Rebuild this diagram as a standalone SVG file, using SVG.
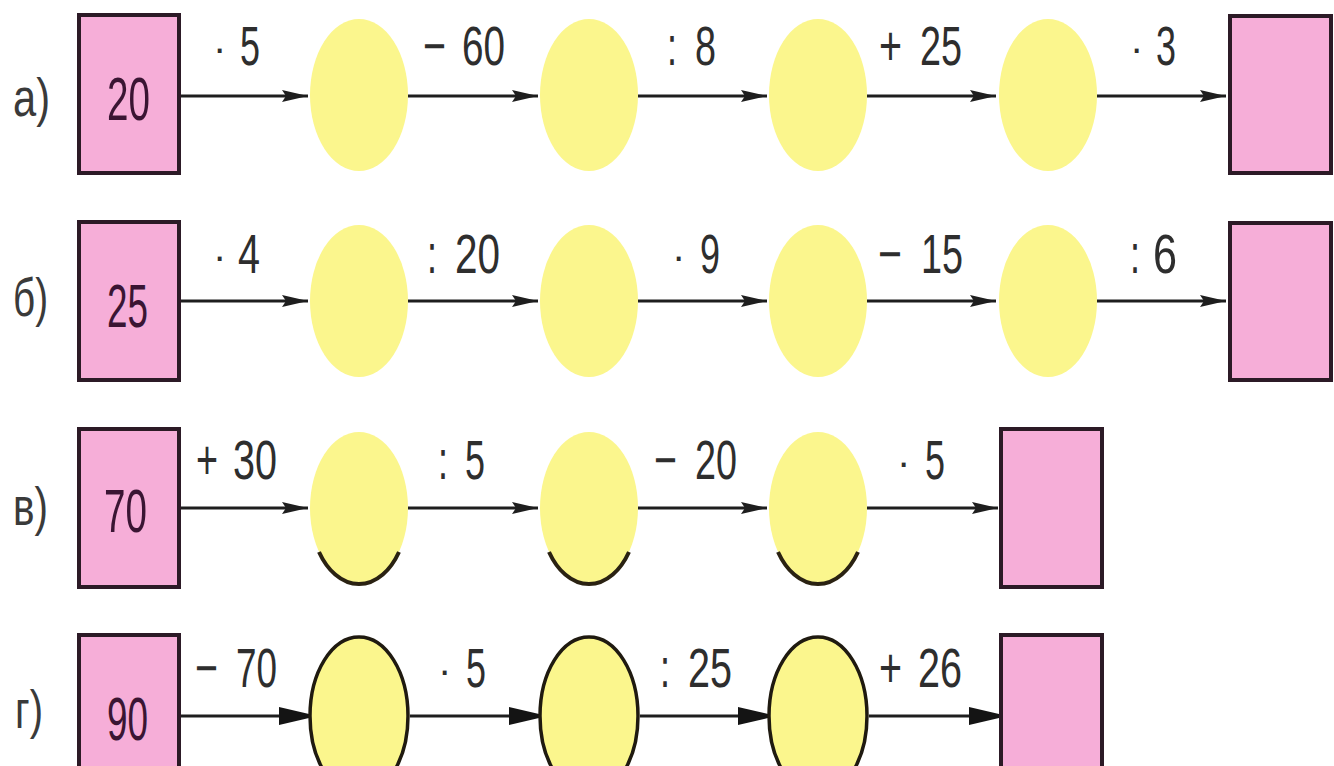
<svg xmlns="http://www.w3.org/2000/svg" width="1334" height="766" viewBox="0 0 1334 766">
<defs>
<style>
.box{fill:#f6aed8;stroke:#2c1a26;stroke-width:4}
.ov{fill:#fbf68d}
.ovs{fill:#fbf68d;stroke:#1f1a10;stroke-width:3.5}
.arc{fill:none;stroke:#2a2212;stroke-width:4}
.ln{stroke:#1e1e1e;stroke-width:3;fill:none}
.num{font-family:"Liberation Sans Narrow","Liberation Sans",Arial,sans-serif;font-size:62px;fill:#3a1533}
.lab{font-family:"Liberation Sans Narrow","Liberation Sans",Arial,sans-serif;font-size:56px;fill:#2e2e2e}
.dot{font-family:"Liberation Sans",Arial,sans-serif;font-size:40px;fill:#2e2e2e}
.row{font-family:"Liberation Sans Narrow","Liberation Sans",Arial,sans-serif;font-size:54px;fill:#3a3a3a}
</style>
<marker id="ah" markerUnits="userSpaceOnUse" markerWidth="28" markerHeight="14" refX="26" refY="7" orient="auto">
<path d="M0,1 L26,7 L0,13 L4,7 Z" fill="#1e1e1e"/>
</marker>
<marker id="ahb" markerUnits="userSpaceOnUse" markerWidth="32" markerHeight="20" refX="30" refY="10" orient="auto">
<path d="M0,1 L30,8 L30,12 L0,19 Z" fill="#141414"/>
</marker>
</defs>
<rect width="1334" height="766" fill="#ffffff"/>

<g id="row-labels">
<text class="row" x="13" y="116" textLength="37" lengthAdjust="spacingAndGlyphs">а)</text>
<text class="row" x="13" y="316" textLength="35" lengthAdjust="spacingAndGlyphs">б)</text>
<text class="row" x="13" y="525" textLength="35" lengthAdjust="spacingAndGlyphs">в)</text>
<text class="row" x="15" y="728" textLength="28" lengthAdjust="spacingAndGlyphs">г)</text>
</g>

<g id="connectors">
<line class="ln" x1="180" y1="96" x2="308" y2="96" marker-end="url(#ah)"/>
<line class="ln" x1="408" y1="96" x2="538" y2="96" marker-end="url(#ah)"/>
<line class="ln" x1="638" y1="96" x2="767" y2="96" marker-end="url(#ah)"/>
<line class="ln" x1="867" y1="96" x2="996" y2="96" marker-end="url(#ah)"/>
<line class="ln" x1="1097" y1="96" x2="1226" y2="96" marker-end="url(#ah)"/>
<line class="ln" x1="180" y1="301" x2="308" y2="301" marker-end="url(#ah)"/>
<line class="ln" x1="408" y1="301" x2="538" y2="301" marker-end="url(#ah)"/>
<line class="ln" x1="638" y1="301" x2="767" y2="301" marker-end="url(#ah)"/>
<line class="ln" x1="867" y1="301" x2="996" y2="301" marker-end="url(#ah)"/>
<line class="ln" x1="1097" y1="301" x2="1226" y2="301" marker-end="url(#ah)"/>
<line class="ln" x1="180" y1="508" x2="308" y2="508" marker-end="url(#ah)"/>
<line class="ln" x1="408" y1="508" x2="538" y2="508" marker-end="url(#ah)"/>
<line class="ln" x1="638" y1="508" x2="767" y2="508" marker-end="url(#ah)"/>
<line class="ln" x1="867" y1="508" x2="998" y2="508" marker-end="url(#ah)"/>
<line class="ln" x1="180" y1="716" x2="309" y2="716" marker-end="url(#ahb)"/>
<line class="ln" x1="410" y1="716" x2="539" y2="716" marker-end="url(#ahb)"/>
<line class="ln" x1="640" y1="716" x2="768" y2="716" marker-end="url(#ahb)"/>
<line class="ln" x1="869" y1="716" x2="999" y2="716" marker-end="url(#ahb)"/>
</g>

<g id="edge-labels">
<text class="dot" x="213" y="62">·</text><text class="lab" x="240" y="65" textLength="20" lengthAdjust="spacingAndGlyphs">5</text>
<text class="lab" x="423" y="65" textLength="23" lengthAdjust="spacingAndGlyphs">−</text><text class="lab" x="462" y="65" textLength="43" lengthAdjust="spacingAndGlyphs">60</text>
<text class="lab" x="667" y="65" textLength="10" lengthAdjust="spacingAndGlyphs">:</text><text class="lab" x="695" y="65" textLength="21" lengthAdjust="spacingAndGlyphs">8</text>
<text class="lab" x="879" y="65" textLength="23" lengthAdjust="spacingAndGlyphs">+</text><text class="lab" x="920" y="65" textLength="42" lengthAdjust="spacingAndGlyphs">25</text>
<text class="dot" x="1130" y="62">·</text><text class="lab" x="1156" y="65" textLength="20" lengthAdjust="spacingAndGlyphs">3</text>

<text class="dot" x="213" y="270">·</text><text class="lab" x="238" y="273" textLength="22" lengthAdjust="spacingAndGlyphs">4</text>
<text class="lab" x="427" y="273" textLength="10" lengthAdjust="spacingAndGlyphs">:</text><text class="lab" x="455" y="273" textLength="45" lengthAdjust="spacingAndGlyphs">20</text>
<text class="dot" x="672" y="270">·</text><text class="lab" x="700" y="273" textLength="20" lengthAdjust="spacingAndGlyphs">9</text>
<text class="lab" x="878" y="273" textLength="24" lengthAdjust="spacingAndGlyphs">−</text><text class="lab" x="921" y="273" textLength="42" lengthAdjust="spacingAndGlyphs">15</text>
<text class="lab" x="1130" y="273" textLength="10" lengthAdjust="spacingAndGlyphs">:</text><text class="lab" x="1153" y="273" textLength="24" lengthAdjust="spacingAndGlyphs">6</text>

<text class="lab" x="196" y="479" textLength="22" lengthAdjust="spacingAndGlyphs">+</text><text class="lab" x="233" y="479" textLength="44" lengthAdjust="spacingAndGlyphs">30</text>
<text class="lab" x="438" y="479" textLength="10" lengthAdjust="spacingAndGlyphs">:</text><text class="lab" x="465" y="479" textLength="20" lengthAdjust="spacingAndGlyphs">5</text>
<text class="lab" x="654" y="479" textLength="23" lengthAdjust="spacingAndGlyphs">−</text><text class="lab" x="695" y="479" textLength="42" lengthAdjust="spacingAndGlyphs">20</text>
<text class="dot" x="897" y="476">·</text><text class="lab" x="925" y="479" textLength="20" lengthAdjust="spacingAndGlyphs">5</text>

<text class="lab" x="195" y="687" textLength="23" lengthAdjust="spacingAndGlyphs">−</text><text class="lab" x="236" y="687" textLength="41" lengthAdjust="spacingAndGlyphs">70</text>
<text class="dot" x="438" y="684">·</text><text class="lab" x="466" y="687" textLength="20" lengthAdjust="spacingAndGlyphs">5</text>
<text class="lab" x="660" y="687" textLength="10" lengthAdjust="spacingAndGlyphs">:</text><text class="lab" x="688" y="687" textLength="44" lengthAdjust="spacingAndGlyphs">25</text>
<text class="lab" x="879" y="687" textLength="23" lengthAdjust="spacingAndGlyphs">+</text><text class="lab" x="918" y="687" textLength="44" lengthAdjust="spacingAndGlyphs">26</text>
</g>

<g id="a-start"><rect class="box" x="79" y="15" width="100" height="158"/><text class="num" x="107" y="120" textLength="43" lengthAdjust="spacingAndGlyphs">20</text></g>
<g id="a-o1"><ellipse class="ov" cx="359" cy="95" rx="49" ry="76"/></g>
<g id="a-o2"><ellipse class="ov" cx="589" cy="95" rx="49" ry="76"/></g>
<g id="a-o3"><ellipse class="ov" cx="818" cy="95" rx="49" ry="76"/></g>
<g id="a-o4"><ellipse class="ov" cx="1048" cy="95" rx="49" ry="76"/></g>
<g id="a-end"><rect class="box" x="1230" y="16" width="101" height="157"/></g>

<g id="b-start"><rect class="box" x="79" y="222" width="100" height="158"/><text class="num" x="107" y="327" textLength="41" lengthAdjust="spacingAndGlyphs">25</text></g>
<g id="b-o1"><ellipse class="ov" cx="359" cy="301" rx="49" ry="76"/></g>
<g id="b-o2"><ellipse class="ov" cx="589" cy="301" rx="49" ry="76"/></g>
<g id="b-o3"><ellipse class="ov" cx="818" cy="301" rx="49" ry="76"/></g>
<g id="b-o4"><ellipse class="ov" cx="1048" cy="301" rx="49" ry="76"/></g>
<g id="b-end"><rect class="box" x="1230" y="223" width="101" height="157"/></g>

<g id="c-start"><rect class="box" x="79" y="429" width="100" height="158"/><text class="num" x="104" y="532" textLength="43" lengthAdjust="spacingAndGlyphs">70</text></g>
<g id="c-o1"><ellipse class="ov" cx="359" cy="508" rx="49" ry="76"/><path class="arc" d="M319,552 A49,76 0 0 0 399,552"/></g>
<g id="c-o2"><ellipse class="ov" cx="589" cy="508" rx="49" ry="76"/><path class="arc" d="M549,552 A49,76 0 0 0 629,552"/></g>
<g id="c-o3"><ellipse class="ov" cx="818" cy="508" rx="49" ry="76"/><path class="arc" d="M778,552 A49,76 0 0 0 858,552"/></g>
<g id="c-end"><rect class="box" x="1001" y="429" width="101" height="158"/></g>

<g id="d-start"><rect class="box" x="79" y="635" width="100" height="160"/><text class="num" x="107" y="740" textLength="41" lengthAdjust="spacingAndGlyphs">90</text></g>
<g id="d-o1"><ellipse class="ovs" cx="359" cy="716" rx="49" ry="79"/></g>
<g id="d-o2"><ellipse class="ovs" cx="589" cy="716" rx="49" ry="79"/></g>
<g id="d-o3"><ellipse class="ovs" cx="818" cy="716" rx="49" ry="79"/></g>
<g id="d-end"><rect class="box" x="1001" y="635" width="101" height="160"/></g>
</svg>
